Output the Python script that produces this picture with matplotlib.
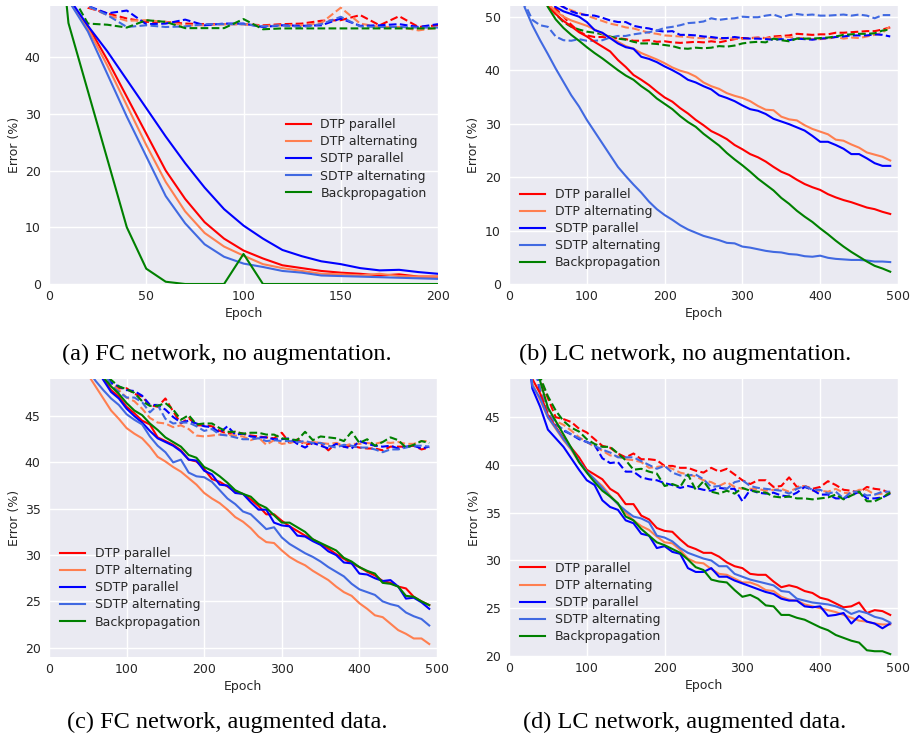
import numpy as np
import matplotlib
matplotlib.use("Agg")
import matplotlib.pyplot as plt

# ---------------- data ----------------
LABELS = ["DTP parallel", "DTP alternating", "SDTP parallel", "SDTP alternating", "Backpropagation"]
COLORS = ["red", "coral", "blue", "royalblue", "green"]

# (a) FC network, no augmentation: epochs 0..200 step 10
A_EPOCHS = list(range(0, 201, 10))
A_TRAIN = [
    [90, 50, 45.5, 39.5, 33, 26.5, 20, 15, 10.9, 8, 5.9, 4.5, 3.3, 2.8, 2.3, 2.0, 1.8, 1.5, 1.7, 1.3, 1.3],
    [90, 50, 45, 38.5, 31.5, 24.5, 18, 12.8, 9, 6.6, 5, 3.5, 2.8, 2.3, 1.8, 1.7, 1.5, 1.8, 1.4, 1.3, 1.3],
    [90, 50.5, 45.5, 41, 36, 31, 26, 21.3, 17, 13.2, 10.3, 8, 6, 4.9, 4, 3.5, 2.8, 2.4, 2.5, 2.1, 1.8],
    [90, 50, 44.5, 37, 29.5, 22.5, 15.5, 10.7, 7, 4.8, 3.6, 3, 2.3, 2, 1.5, 1.4, 1.3, 1.2, 1.1, 1, 0.9],
    [80, 46, 34, 22, 10, 2.7, 0.4, 0, 0, 0, 5.3, 0, 0, 0, 0, 0, 0, 0, 0, 0, 0],
]
A_TEST = [
    [90, 53, 48.7, 47.7, 46.8, 46.2, 46.2, 45.9, 45.8, 45.8, 45.8, 45.6, 45.8, 45.9, 46.4, 46.5, 47.4, 45.6, 47.2, 45.3, 45.6],
    [90, 53, 48.9, 47.4, 46.4, 46.5, 46.2, 45.6, 45.6, 45.8, 45.8, 45.5, 45.6, 45.6, 46.0, 48.7, 45.9, 45.3, 45.3, 44.7, 45.2],
    [90, 53, 49, 47.7, 48.2, 45.8, 45.9, 46.6, 45.6, 45.9, 45.9, 45.3, 45.6, 45.5, 45.6, 46.8, 45.5, 45.6, 45.8, 45.3, 45.8],
    [90, 53, 49, 47.4, 45.3, 45.6, 45.3, 45.4, 45.8, 45.8, 45.8, 45.4, 45.6, 45.3, 45.8, 47.1, 45.4, 45.3, 45.3, 45.2, 45.2],
    [90, 52, 45.9, 45.7, 45.2, 46.5, 46.2, 45.1, 45.1, 45.1, 46.7, 44.9, 45.05, 45.05, 45.05, 45.05, 45.05, 45.05, 45.05, 45.05, 45.05],
]

# epochs 0..490 step 10 for panels (b), (c), (d)
EPOCHS = list(range(0, 500, 10))

# (b) LC network, no augmentation
B_TRAIN = [
    [90, 78, 68, 61, 56, 52, 50.5, 49.2, 48.2, 47.1, 46.3, 45.3, 44.4, 43.5, 41.9, 40.6, 39.1, 38.2, 37.2, 36,
     34.9, 34.1, 32.9, 31.9, 30.7, 29.7, 28.6, 27.9, 27.1, 26, 25.2, 24.3, 23.7, 22.9, 21.9, 21, 20.4, 19.5, 18.7, 18.1,
     17.6, 16.8, 16.2, 15.7, 15.3, 14.8, 14.3, 14, 13.5, 13.1],
    [90, 78, 68, 61, 56, 52.5, 51, 50, 49.3, 48.8, 48.3, 47.6, 46.8, 46.2, 45.3, 44.5, 44, 43.2, 42.6, 42,
     41.3, 40.5, 39.9, 39.5, 38.8, 37.7, 37, 36.5, 35.7, 35.2, 34.8, 34.2, 33.3, 32.6, 32.5, 31.3, 30.8, 30.6, 29.7, 29,
     28.5, 28, 27, 26.8, 26.1, 25.5, 24.6, 24.2, 23.8, 23.1],
    [90, 80, 70, 63, 58, 54, 51.8, 51, 50.5, 50, 49, 47.5, 47, 46, 45, 44.3, 44, 42.5, 42.1, 41.5,
     40.7, 40, 39.2, 38.2, 37.7, 37, 36.4, 35.3, 34.8, 34.2, 33.4, 32.7, 32.4, 31.8, 30.9, 30.4, 29.9, 29.3, 28.7, 27.7,
     26.6, 26.6, 26, 25.3, 24.3, 24.3, 23.5, 22.6, 22.1, 22.1],
    [90, 62, 51.8, 48.4, 45.6, 43, 40.3, 37.8, 35.3, 33.2, 30.7, 28.5, 26.3, 24.1, 21.9, 20.2, 18.6, 17.1, 15.4, 14,
     12.9, 12, 11, 10.2, 9.6, 9, 8.6, 8.2, 7.7, 7.6, 7, 6.8, 6.5, 6.2, 6, 5.9, 5.6, 5.5, 5.2, 5.1,
     5.3, 4.9, 4.7, 4.6, 4.5, 4.5, 4.4, 4.2, 4.2, 4.1],
    [90, 78, 68, 60, 55, 51.8, 49.5, 47.9, 46.6, 45.5, 44.3, 43.2, 42.2, 41.1, 40, 39, 38.2, 37, 36, 34.7,
     33.7, 32.7, 31.4, 30.3, 29.4, 28.1, 27, 25.9, 24.5, 23.3, 22.2, 21, 19.7, 18.6, 17.5, 16.1, 15, 13.7, 12.6, 11.6,
     10.4, 9.3, 8.1, 7, 6, 5.1, 4.2, 3.4, 2.9, 2.3],
]
B_TEST = [
    [90, 80, 70, 62, 56, 53, 51.5, 50, 48.5, 47.2, 46.5, 46.2, 46.2, 46, 46, 45.8, 45.5, 45.5, 45.6, 45.3,
     45.4, 45.2, 45.1, 45.2, 45.3, 45.2, 45.4, 45.2, 45.5, 45.8, 46, 46, 46.1, 46, 46.3, 46.4, 46.5, 46.8, 46.7, 46.6,
     46.7, 46.7, 47, 47, 47.1, 47.2, 47.3, 47.3, 47.6, 48],
    [90, 80, 70, 62, 57, 53.5, 52.5, 51.8, 51.2, 50.7, 50.2, 49.7, 49.2, 48.7, 48.4, 48, 47.8, 47.4, 47, 46.8,
     46.5, 46.4, 46.3, 46.2, 46, 46, 46, 45.8, 46, 45.9, 45.8, 46, 46, 46, 46, 46.2, 46.2, 46, 46, 45.8,
     45.8, 45.9, 46.2, 45.9, 46.1, 46, 46.3, 46.6, 47, 48.2],
    [90, 80, 70, 63, 58, 54.5, 52.5, 51.8, 51, 50.5, 50.3, 50.2, 49.8, 49.3, 49, 49, 48.3, 48, 47.8, 47.4,
     47.2, 47.3, 46.6, 46.6, 46.5, 46.3, 46.2, 46, 46, 46.2, 46, 45.9, 45.9, 45.8, 45.7, 45.8, 45.6, 45.9, 45.8, 45.7,
     45.9, 46, 46.2, 46.3, 46.5, 46.5, 46.5, 46.7, 46.6, 46.3],
    [90, 62, 52.5, 49.4, 48.4, 48.1, 46.3, 45.6, 45.5, 45.8, 45.5, 45.5, 45.6, 46.1, 46.4, 46.4, 46.7, 46.9, 47.1, 47.4,
     47.9, 48.1, 48.4, 48.8, 48.9, 49.1, 49.7, 49.4, 49.6, 49.7, 50, 49.9, 49.9, 50.2, 50.4, 49.9, 50.3, 50.5, 50.3, 50.4,
     50.2, 50.2, 50.3, 50.4, 50.2, 50.4, 50.2, 49.7, 50.3, 50.3],
    [90, 78, 68, 60, 55, 52, 50.5, 49, 48.1, 47.6, 47.2, 47, 46.7, 46.3, 45.9, 45.7, 45.3, 45, 45, 44.9,
     44.7, 44.5, 44.1, 44, 44.2, 44.1, 44.2, 44.5, 44.4, 44.6, 45, 45.2, 45.3, 45.2, 45.9, 45.6, 45.4, 45.9, 45.9, 45.9,
     46, 46.1, 46.3, 46.6, 46.7, 46.8, 46.8, 46.9, 47.4, 47.6],
]

# (c) FC network, augmented data
C_TRAIN = [
    [90, 77, 67, 60, 55, 52, 50.5, 49, 47.8, 47.1, 46, 45.3, 44.5, 44.1, 42.7, 42.3, 41.9, 41.3, 40.3, 40.1,
     39.3, 38.2, 37.9, 37.4, 36.8, 36.6, 36, 35.3, 34.4, 34.4, 33.7, 33.1, 32.6, 32.1, 31.7, 31.2, 30.7, 30.1, 29.6, 29.1,
     28.7, 28.2, 27.8, 27.2, 27, 26.6, 26.4, 25.5, 25, 24.6],
    [90, 75, 64, 57, 52, 49.5, 48.2, 46.9, 45.6, 44.7, 43.7, 43.1, 42.6, 41.7, 40.6, 40.1, 39.5, 39, 38.3, 37.6,
     36.7, 36.1, 35.6, 34.9, 34.1, 33.6, 32.9, 32, 31.4, 31.3, 30.5, 29.8, 29.3, 28.9, 28.3, 27.8, 27.3, 26.6, 26, 25.6,
     24.8, 24.2, 23.5, 23.3, 22.6, 21.9, 21.5, 21, 21, 20.4],
    [90, 77, 67, 60, 55, 52, 50.3, 48.9, 47.6, 46.9, 45.8, 45, 44.3, 43.4, 42.6, 42.2, 41.8, 41.2, 40.3, 40.2,
     39.1, 38.7, 37.6, 37.5, 36.7, 36.6, 35.7, 34.9, 34.9, 33.5, 33.2, 33.1, 32.1, 32, 31.5, 31.1, 30.4, 30, 29.2, 29.1,
     28, 27.9, 27.5, 27.2, 27.3, 26.6, 25.3, 25.4, 24.9, 24.2],
    [90, 76, 65, 58, 53, 50, 48.8, 47.8, 46.9, 46.2, 45.2, 44.6, 44.1, 42.8, 41.8, 41.1, 40.0, 40.3, 38.9, 38.5,
     38.4, 37.9, 37.0, 36.1, 35.5, 34.7, 34.4, 33.6, 32.8, 33.0, 31.9, 31.2, 30.7, 30.2, 29.8, 29.3, 28.7, 28.2, 27.7, 26.9,
     26.3, 26.0, 25.7, 25.0, 24.7, 24.5, 23.8, 23.4, 23.1, 22.4],
    [90, 78, 68, 61, 56, 52.5, 50.8, 49.2, 48.2, 47.4, 46.4, 45.6, 45.1, 44.2, 43.5, 42.7, 42.2, 41.7, 40.8, 40.5,
     39.5, 39.1, 38.5, 37.8, 37, 36.6, 36.3, 35.5, 35.1, 34.3, 33.5, 33.5, 33, 32.5, 31.7, 31.3, 30.9, 30.5, 29.7, 29.3,
     28.7, 28.3, 28.0, 27.0, 26.9, 26.6, 25.6, 25.5, 25.0, 24.6],
]
C_TEST = [
    [90, 80, 70, 62, 57, 54, 51.5, 50, 48.5, 48, 48, 47.4, 47.1, 46.2, 46, 46.9, 45.5, 44.2, 44.8, 44,
     44, 43.9, 43.4, 43.1, 43.3, 43.1, 42.9, 42.8, 42.7, 42.6, 43.2, 42.1, 42.5, 41.9, 42.1, 42.1, 41.3, 42.1, 41.7, 41.8,
     41.6, 41.5, 41.5, 41.3, 41.7, 41.7, 41.7, 41.8, 41.4, 41.6],
    [90, 80, 70, 62, 57, 54, 51.5, 50, 48.5, 47.8, 47, 46.6, 45.8, 44.8, 44.3, 44.2, 43.8, 44, 43.6, 42.9,
     42.8, 42.9, 43, 43, 42.9, 42.8, 42.4, 42.7, 41.9, 42.4, 42, 42.1, 42.3, 42.1, 42.2, 42.1, 42, 42.1, 41.8, 42,
     42, 42.1, 42, 42.2, 42.1, 42.2, 42, 42, 42.3, 42.3],
    [90, 80, 70, 62, 57, 54, 51.5, 50, 48.6, 48.2, 47.8, 47.7, 47.2, 46.2, 46.2, 45.7, 44.9, 44.3, 44.5, 44.2,
     43.9, 43.8, 43.2, 43.9, 43, 43.1, 42.8, 42.7, 42.7, 42.5, 42.5, 42.6, 42, 41.6, 42.1, 41.8, 41.5, 42, 41.7, 41.5,
     42.3, 42, 41.8, 41.7, 41.8, 41.5, 41.7, 41.8, 41.5, 41.7],
    [90, 80, 70, 62, 57, 54, 51.5, 50, 48.3, 47.6, 47, 47, 46.5, 45.4, 46.2, 44.7, 44.2, 44.3, 44.3, 43.9,
     43.4, 43.6, 43, 42.9, 42.7, 42.5, 42.5, 42.6, 42.3, 42.4, 42.3, 42.3, 42.2, 42.3, 42.1, 42.1, 41.8, 41.6, 41.9, 41.8,
     41.6, 41.6, 41.4, 41.1, 41.4, 41.4, 41.6, 41.8, 41.8, 41.7],
    [90, 80, 70, 62, 57, 54, 51.8, 50.3, 48.9, 48.2, 47.9, 47.5, 46.6, 46.1, 46.1, 46.4, 45.7, 44.6, 45.1, 44.1,
     44.2, 44.2, 43.7, 43.3, 43.3, 43.1, 43.2, 43.2, 43, 43, 42.6, 42.5, 42.4, 43.3, 42.4, 42.8, 42.7, 42.6, 42.3, 43.3,
     42.1, 42.5, 41.8, 42.2, 42.7, 42.4, 41.6, 41.9, 42.3, 42.1],
]

# (d) LC network, augmented data
D_TRAIN = [
    [90, 72, 57, 49, 47.5, 45.2, 44, 42.8, 41.8, 40.8, 39.5, 39, 38.5, 37.5, 37, 35.9, 35.9, 34.7, 34.3, 33.4,
     33.1, 33, 32.2, 31.5, 31.2, 30.8, 30.8, 30.4, 29.8, 29.4, 29.2, 28.6, 28.5, 28.5, 27.8, 27.2, 27.4, 27.2, 26.8, 26.6,
     26.1, 25.9, 25.5, 25.1, 25.2, 25.6, 24.5, 24.8, 24.7, 24.3],
    [90, 71, 56, 48.5, 46.8, 45, 43.8, 42.6, 41.6, 40.3, 39.3, 38.5, 37.8, 36.8, 35.9, 35, 34.2, 33.6, 33.2, 32.5,
     31.9, 31.8, 31.1, 30.2, 29.8, 29.7, 29.1, 28.6, 28.5, 28.1, 27.7, 27.7, 27.4, 26.9, 26.8, 26.2, 25.9, 25.8, 25.4, 25.2,
     25, 24.8, 24.6, 24.3, 24, 23.7, 23.6, 23.4, 23.3, 23.3],
    [90, 70, 55, 48, 46.1, 43.7, 42.8, 41.9, 40.7, 39.5, 38.4, 37.9, 36.3, 35.6, 35.3, 34.2, 33.9, 32.8, 32.6, 31.3,
     31.5, 30.9, 30.7, 29.2, 28.8, 28.8, 29.2, 28.3, 28.3, 27.9, 27.6, 27.3, 27, 26.7, 26.5, 26, 25.8, 25.8, 25.2, 25.1,
     25.2, 24.2, 24.3, 24.5, 23.4, 24.2, 23.6, 23.4, 22.9, 23.4],
    [90, 71, 56, 48.3, 47, 45, 43.9, 42.7, 41.7, 40.4, 39.3, 38.5, 37.6, 36.7, 35.9, 35.2, 34.6, 34.4, 34, 32.6,
     32.4, 32, 31.3, 30.8, 30.5, 30.2, 30, 29.4, 29.4, 28.6, 28.3, 28, 27.8, 27.6, 27.4, 26.8, 26.7, 26, 25.8, 25.6,
     25.5, 25.4, 25.2, 24.9, 24.4, 24.7, 24.5, 24.1, 23.9, 23.5],
    [90, 74, 61, 51, 48.8, 46, 44.6, 43.2, 41.8, 40.3, 39.2, 38.2, 37.3, 36.7, 36, 34.6, 34.2, 33.3, 32.6, 31.9,
     31.6, 31.2, 30.8, 30.1, 29.3, 29, 28, 27.8, 27.7, 26.9, 26.2, 26.4, 26, 25.3, 25.2, 24.3, 24.3, 24, 23.8, 23.4,
     23, 22.7, 22.2, 21.9, 21.6, 21.4, 20.6, 20.5, 20.5, 20.2],
]
D_TEST = [
    [90, 74, 62, 53, 49, 47, 45, 44.8, 44.5, 43.8, 43.4, 42.7, 42, 41.8, 41.2, 40.8, 41.2, 40.6, 40.6, 40.5,
     39.9, 39.9, 39.7, 39.7, 39.4, 39.2, 39.7, 39.3, 39.6, 39, 38.4, 38, 38.4, 38.4, 37.7, 37.8, 38.7, 37.7, 37.8, 37.5,
     37.7, 38.3, 37.9, 37.4, 37.3, 37.1, 37.7, 37.5, 37.4, 37],
    [90, 74, 62, 52, 48, 45.8, 44.6, 44.2, 43.6, 42.9, 42.4, 41.9, 41.5, 41, 40.9, 40.6, 40.5, 40.3, 39.7, 39.8,
     39.9, 39.6, 39.2, 39, 38.8, 38.4, 38.2, 37.8, 38.2, 37.7, 37.5, 37.5, 37.5, 37.3, 37.4, 37.5, 37.2, 37.6, 37.8, 37.3,
     37.3, 37.2, 37.5, 37.1, 37, 37.4, 37.4, 36.9, 37, 37.1],
    [90, 74, 62, 52, 47.5, 45.2, 44.3, 43.6, 43.2, 42.7, 42.4, 42.1, 40.7, 40.2, 40.3, 39.3, 39.3, 38.7, 38.5, 38.4,
     38.1, 37.9, 37.6, 37.8, 37.6, 37.4, 37.3, 37.6, 37.5, 37.5, 36.2, 37.4, 37.1, 37, 37.1, 36.8, 36.7, 37.1, 37.7, 37.4,
     36.9, 36.9, 36.5, 36.5, 36.8, 37.2, 36.5, 36.5, 36.6, 37],
    [90, 74, 62, 52, 47.8, 45.4, 44.3, 43.7, 43.2, 42.8, 42.4, 42, 41.6, 41.3, 40.8, 40.8, 40.8, 40.4, 40, 39.6,
     39.9, 39.2, 38.9, 38.9, 39, 38.5, 37.7, 37.8, 37.5, 38.2, 38.4, 37.8, 37.6, 37.5, 37.4, 37.3, 37, 37.5, 37.8, 37.4,
     37.4, 37, 37.2, 36.5, 37.2, 37.2, 36.8, 36.9, 37.2, 37.2],
    [90, 75, 63, 54, 49.2, 47.2, 45.7, 44.6, 43.9, 43.5, 42.7, 42.2, 41.9, 41.9, 41.2, 40.5, 39.5, 39.6, 39.3, 39.1,
     37.8, 38, 37.7, 39, 37.4, 38.3, 37.2, 37, 37.3, 37, 37.6, 37.3, 37.2, 37.1, 36.7, 36.6, 36.7, 36.5, 36.5, 36.4,
     36.5, 36.6, 36.9, 36.4, 36.8, 37.2, 36.2, 36.2, 36.6, 37.1],
]

CAPTIONS = ["(a) FC network, no augmentation.", "(b) LC network, no augmentation.",
            "(c) FC network, augmented data.", "(d) LC network, augmented data."]

# ---------------- style ----------------
plt.rcParams.update({
    "font.family": ["DejaVu Sans"],
    "axes.facecolor": "#EAEAF2",
    "axes.edgecolor": "white",
    "grid.color": "white",
    "grid.linewidth": 1.0,
    "text.color": "#262626",
    "axes.labelcolor": "#262626",
    "xtick.color": "#262626",
    "ytick.color": "#262626",
})

fig = plt.figure(figsize=(9.11, 7.38), dpi=100)

W, H = 911, 738
def px_axes(l, t, r, b):
    return fig.add_axes([l / W, 1 - b / H, (r - l) / W, (b - t) / H])

panels = [
    dict(box=(49, 6, 438, 284), ep=A_EPOCHS, tr=A_TRAIN, te=A_TEST, xlim=(0, 200), xt=range(0, 201, 50),
         ylim=(0, 49), yt=range(0, 41, 10), leg=dict(loc="center right", bbox_to_anchor=(1.0, 0.45))),
    dict(box=(509, 6, 898, 284), ep=EPOCHS, tr=B_TRAIN, te=B_TEST, xlim=(0, 500), xt=range(0, 501, 100),
         ylim=(0, 52), yt=range(0, 51, 10), leg=dict(loc="lower left", bbox_to_anchor=(0.0, 0.012))),
    dict(box=(49, 379, 437, 657), ep=EPOCHS, tr=C_TRAIN, te=C_TEST, xlim=(0, 500), xt=range(0, 501, 100),
         ylim=(19, 49), yt=range(20, 46, 5), leg=dict(loc="lower left", bbox_to_anchor=(0.0, 0.062))),
    dict(box=(509, 379, 898, 656), ep=EPOCHS, tr=D_TRAIN, te=D_TEST, xlim=(0, 500), xt=range(0, 501, 100),
         ylim=(20, 49), yt=range(20, 46, 5), leg=dict(loc="lower left", bbox_to_anchor=(0.0, 0.005))),
]

for p in panels:
    ax = px_axes(*p["box"])
    ax.set_axisbelow(True)
    ax.grid(True)
    for spine in ax.spines.values():
        spine.set_visible(False)
    handles = []
    for vals, col, lab in zip(p["te"], COLORS, LABELS):
        ax.plot(p["ep"], vals, color=col, lw=1.5, ls="--")
    for vals, col, lab in zip(p["tr"], COLORS, LABELS):
        h, = ax.plot(p["ep"], vals, color=col, lw=1.5, label=lab)
        handles.append(h)
    ax.set_xlim(*p["xlim"])
    ax.set_ylim(*p["ylim"])
    ax.set_xticks(list(p["xt"]))
    ax.set_yticks(list(p["yt"]))
    ax.tick_params(axis="x", length=0, labelsize=9, pad=4)
    ax.tick_params(axis="y", length=0, labelsize=9, pad=6)
    ax.set_xlabel("Epoch", fontsize=9, labelpad=3)
    ax.set_ylabel("Error (%)", fontsize=9, labelpad=3)
    ax.legend(handles=handles, frameon=False, fontsize=9, labelspacing=0.33, handlelength=2.0,
              handletextpad=0.8, **p["leg"])

cap_font = dict(family=["Liberation Serif", "DejaVu Serif"], fontsize=17.5, ha="center", va="center",
                color="black")
fig.text(0.249, 1 - 354 / H, CAPTIONS[0], **cap_font)
fig.text(0.752, 1 - 354 / H, CAPTIONS[1], **cap_font)
fig.text(0.249, 1 - 722 / H, CAPTIONS[2], **cap_font)
fig.text(0.752, 1 - 722 / H, CAPTIONS[3], **cap_font)

fig.savefig("out.png", dpi=100)
